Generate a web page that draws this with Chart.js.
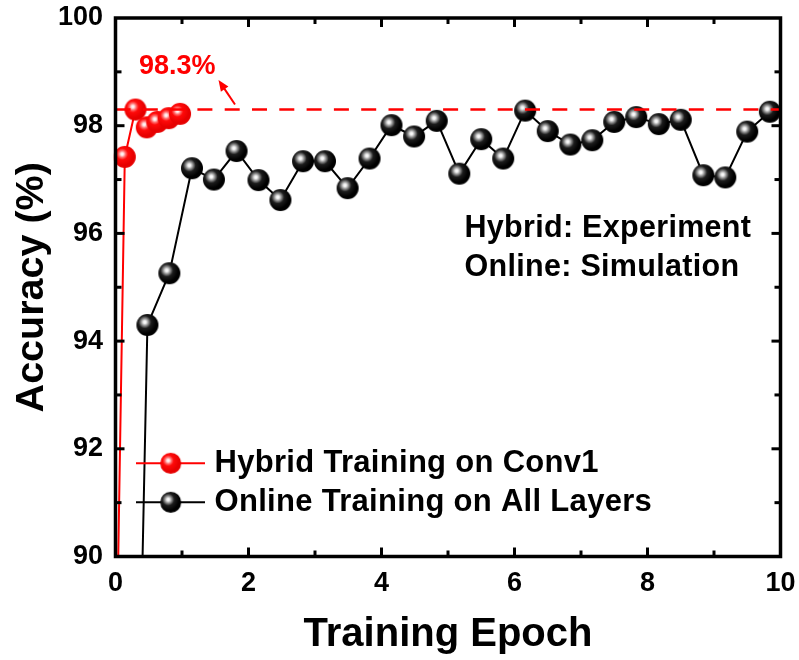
<!DOCTYPE html>
<html>
<head>
<meta charset="utf-8">
<script src="https://cdn.jsdelivr.net/npm/chart.js@4.4.1/dist/chart.umd.min.js"></script>
<style>
  html, body { margin: 0; padding: 0; background: #ffffff; }
  canvas { display: block; }
</style>
</head>
<body>
<canvas id="accChart" width="799" height="660"></canvas>
<script>
// Hybrid training (experiment): Conv1 trained on hardware
const hybridEpoch = [0, 0.14, 0.30, 0.47, 0.63, 0.80, 0.97];
const hybridAcc   = [86.9, 97.42, 98.3, 97.97, 98.07, 98.14, 98.22];

// Online training (simulation): all layers
const onlineEpoch = [0.15, 0.48, 0.81, 1.15, 1.48, 1.82, 2.15, 2.48, 2.82, 3.15, 3.49,
                     3.82, 4.15, 4.49, 4.83, 5.17, 5.50, 5.83, 6.16, 6.50, 6.84,
                     7.17, 7.50, 7.83, 8.17, 8.50, 8.84, 9.17, 9.50, 9.84];
const onlineAcc   = [74.8, 94.30, 95.26, 97.21, 97.00, 97.53, 96.99, 96.62, 97.34, 97.34, 96.84,
                     97.39, 98.01, 97.80, 98.09, 97.11, 97.75, 97.39, 98.28, 97.90, 97.65,
                     97.73, 98.07, 98.16, 98.03, 98.11, 97.08, 97.04, 97.89, 98.26];

// Reference level of the best hybrid result
const bestAcc = 98.3;
const bestLabel = '98.3%';

// Axis ranges and labels
const xRange = [0, 10];
const yRange = [90, 100];
const seriesNames = ['Hybrid Training on Conv1', 'Online Training on All Layers'];
const noteLines = ['Hybrid: Experiment', 'Online: Simulation'];
const xTitle = 'Training Epoch';
const yTitle = 'Accuracy (%)';

const FONT = '"Liberation Sans", Arial, Helvetica, sans-serif';
Chart.defaults.font.family = FONT;
Chart.defaults.color = '#000';

// Shaded sphere markers
function makeBall(r, palette) {
  const s = Math.ceil(2 * r + 2);
  const c = document.createElement('canvas');
  c.width = s; c.height = s;
  const g = c.getContext('2d');
  const cx = s / 2, cy = s / 2;
  const hx = cx - r * 0.24, hy = cy - r * 0.26;
  const grad = g.createRadialGradient(hx, hy, 0, hx, hy, r * 1.05);
  palette.forEach(([stop, col]) => grad.addColorStop(stop, col));
  g.beginPath();
  g.arc(cx, cy, r, 0, Math.PI * 2);
  g.fillStyle = grad;
  g.fill();
  return c;
}
const blackStops = [[0, '#ffffff'], [0.12, '#f2f2f2'], [0.32, '#8c8c8c'], [0.55, '#1c1c1c'], [1, '#000000']];
const redStops   = [[0, '#ffffff'], [0.12, '#ffe6e6'], [0.3, '#ff6a6a'], [0.5, '#ff0a0a'], [1, '#e60000']];
const redBall = makeBall(11, redStops);
const blackBall = makeBall(11, blackStops);
const redBallSmall = makeBall(10.5, redStops);
const blackBallSmall = makeBall(10.5, blackStops);

const toPoints = (xs, ys) => xs.map((x, i) => ({ x: x, y: ys[i] }));

// Keep the plot box exactly where the layout padding puts it
function noOverflow(scale) {
  scale.paddingTop = 0; scale.paddingBottom = 0;
  scale.paddingLeft = 0; scale.paddingRight = 0;
}

// Frame, inward ticks, reference line, arrow note, legend and notes
const decorPlugin = {
  id: 'decor',
  afterDatasetsDraw(chart) {
    const { ctx, chartArea: a, scales: { y } } = chart;
    // dashed reference line at the best hybrid accuracy
    const yb = y.getPixelForValue(bestAcc);
    ctx.save();
    ctx.strokeStyle = '#ff0000';
    ctx.lineWidth = 2.5;
    ctx.setLineDash([15, 12.3]);
    ctx.beginPath();
    ctx.moveTo(a.left, yb);
    ctx.lineTo(a.right, yb);
    ctx.stroke();
    ctx.restore();
  },
  afterDraw(chart) {
    const { ctx, chartArea: a, scales: { x, y } } = chart;
    ctx.save();

    // frame
    ctx.strokeStyle = '#000';
    ctx.lineWidth = 3.5;
    ctx.strokeRect(a.left, a.top, a.right - a.left, a.bottom - a.top);

    // inward ticks (major on labelled values, minor halfway)
    ctx.lineWidth = 3;
    const tick = (x1, y1, x2, y2) => { ctx.beginPath(); ctx.moveTo(x1, y1); ctx.lineTo(x2, y2); ctx.stroke(); };
    for (let v = xRange[0] + 1; v < xRange[1]; v += 1) {
      const px = x.getPixelForValue(v);
      const len = (v % 2 === 0) ? 9 : 6;
      tick(px, a.bottom, px, a.bottom - len);
      tick(px, a.top, px, a.top + len);
    }
    for (let v = yRange[0] + 1; v < yRange[1]; v += 1) {
      const py = y.getPixelForValue(v);
      const len = (v % 2 === 0) ? 9 : 6;
      tick(a.left, py, a.left + len, py);
      tick(a.right, py, a.right - len, py);
    }

    // value note with arrow
    const yb = y.getPixelForValue(bestAcc);
    ctx.fillStyle = '#ff0000';
    ctx.font = 'bold 27px ' + FONT;
    ctx.textAlign = 'left';
    ctx.textBaseline = 'alphabetic';
    ctx.fillText(bestLabel, 139, 73.5);
    const tailX = 235, tailY = yb - 5, tipX = 218.5, tipY = 80;
    const ang = Math.atan2(tipY - tailY, tipX - tailX);
    ctx.strokeStyle = '#ff0000';
    ctx.lineWidth = 2;
    ctx.beginPath();
    ctx.moveTo(tailX, tailY);
    ctx.lineTo(tipX - 8 * Math.cos(ang), tipY - 8 * Math.sin(ang));
    ctx.stroke();
    ctx.beginPath();
    ctx.moveTo(tipX, tipY);
    ctx.lineTo(tipX - 11 * Math.cos(ang) + 4.5 * Math.sin(ang), tipY - 11 * Math.sin(ang) - 4.5 * Math.cos(ang));
    ctx.lineTo(tipX - 11 * Math.cos(ang) - 4.5 * Math.sin(ang), tipY - 11 * Math.sin(ang) + 4.5 * Math.cos(ang));
    ctx.closePath();
    ctx.fillStyle = '#ff0000';
    ctx.fill();

    // notes
    ctx.letterSpacing = '0.3px';
    ctx.fillStyle = '#000';
    ctx.font = 'bold 30.5px ' + FONT;
    ctx.fillText(noteLines[0], 464.5, 237);
    ctx.fillText(noteLines[1], 464.5, 275.5);

    // legend
    const rows = [
      { y: 463.3, base: 471.7, color: '#ff0000', ball: redBallSmall, text: seriesNames[0] },
      { y: 502.3, base: 510.5, color: '#000000', ball: blackBallSmall, text: seriesNames[1] }
    ];
    ctx.font = 'bold 31px ' + FONT;
    rows.forEach(r => {
      ctx.strokeStyle = r.color;
      ctx.lineWidth = 2;
      ctx.beginPath();
      ctx.moveTo(136, r.y);
      ctx.lineTo(205, r.y);
      ctx.stroke();
      ctx.drawImage(r.ball, 170.7 - r.ball.width / 2, r.y - r.ball.height / 2);
      ctx.fillStyle = '#000';
      ctx.fillText(r.text, 214.5, r.base);
    });
    ctx.restore();
  }
};

new Chart(document.getElementById('accChart'), {
  type: 'line',
  data: {
    datasets: [
      {
        label: seriesNames[0],
        data: toPoints(hybridEpoch, hybridAcc),
        borderColor: '#ff0000',
        backgroundColor: '#ff0000',
        borderWidth: 2,
        pointStyle: redBall,
        pointRadius: 11,
        tension: 0,
        clip: { left: 4, top: 4, right: 4, bottom: 0 }
      },
      {
        label: seriesNames[1],
        data: toPoints(onlineEpoch, onlineAcc),
        borderColor: '#000000',
        backgroundColor: '#000000',
        borderWidth: 2,
        pointStyle: blackBall,
        pointRadius: 11,
        tension: 0,
        clip: { left: 4, top: 4, right: 4, bottom: 0 }
      }
    ]
  },
  options: {
    responsive: false,
    animation: false,
    devicePixelRatio: 1,
    layout: { padding: { top: 18, right: 18.5, left: 0, bottom: 0 } },
    plugins: { legend: { display: false }, tooltip: { enabled: false } },
    scales: {
      x: {
        type: 'linear',
        min: xRange[0], max: xRange[1],
        afterFit(scale) { scale.height = 103.5; noOverflow(scale); },
        grid: { display: false, drawTicks: false },
        border: { display: false },
        ticks: { stepSize: 2, padding: 11, maxRotation: 0, autoSkip: false,
                 font: { size: 27, weight: 'bold' }, color: '#000' },
        title: { display: true, text: xTitle, font: { size: 40, weight: 'bold' },
                 color: '#000', padding: { top: 0, bottom: 1 } }
      },
      y: {
        type: 'linear',
        min: yRange[0], max: yRange[1],
        afterFit(scale) { scale.width = 115.5; noOverflow(scale); },
        grid: { display: false, drawTicks: false },
        border: { display: false },
        ticks: { stepSize: 2, padding: 12.5, font: { size: 27, weight: 'bold' }, color: '#000' },
        title: { display: true, text: yTitle, font: { size: 39.5, weight: 'bold' },
                 color: '#000', padding: { top: 8, bottom: 0 } }
      }
    }
  },
  plugins: [decorPlugin]
});
</script>
</body>
</html>
